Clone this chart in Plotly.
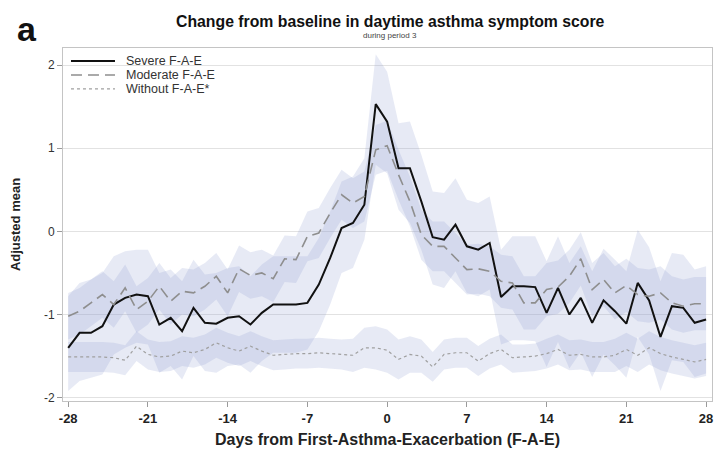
import plotly.graph_objects as go

days = list(range(-28, 29))

severe = [-1.40, -1.22, -1.22, -1.14, -0.88, -0.80, -0.76, -0.78, -1.12, -1.04,
          -1.20, -0.92, -1.10, -1.11, -1.04, -1.02, -1.12, -0.98, -0.88, -0.88,
          -0.88, -0.86, -0.64, -0.32, 0.04, 0.10, 0.32, 1.53, 1.32, 0.76,
          0.76, 0.36, -0.07, -0.10, 0.08, -0.18, -0.22, -0.14, -0.79, -0.66,
          -0.66, -0.67, -0.98, -0.68, -1.00, -0.80, -1.10, -0.83, -0.96, -1.11,
          -0.62, -0.83, -1.27, -0.90, -0.92, -1.10, -1.06]
severe_lo = [-1.92, -1.80, -1.76, -1.72, -1.48, -1.40, -1.34, -1.36, -1.70, -1.62,
             -1.78, -1.50, -1.68, -1.70, -1.62, -1.60, -1.70, -1.56, -1.46, -1.46,
             -1.46, -1.42, -1.20, -0.88, -0.50, -0.44, -0.10, 0.80, 0.70, 0.26,
             0.10, -0.22, -0.64, -0.68, -0.48, -0.74, -0.78, -0.70, -1.36, -1.31,
             -1.31, -1.32, -1.63, -1.33, -1.65, -1.45, -1.75, -1.48, -1.61, -1.76,
             -1.27, -1.48, -1.92, -1.55, -1.57, -1.75, -1.71]
severe_hi = [-0.78, -0.62, -0.58, -0.50, -0.30, -0.24, -0.22, -0.22, -0.50, -0.46,
             -0.60, -0.34, -0.52, -0.50, -0.44, -0.42, -0.54, -0.40, -0.30, -0.30,
             -0.30, -0.30, -0.08, 0.24, 0.60, 0.66, 0.88, 2.13, 1.92, 1.30,
             1.32, 0.92, 0.48, 0.46, 0.64, 0.38, 0.34, 0.42, -0.22, -0.06,
             -0.06, -0.06, -0.36, -0.06, -0.38, -0.18, -0.48, -0.21, -0.34, -0.48,
             0.02, -0.19, -0.60, -0.26, -0.28, -0.46, -0.42]

moderate = [-1.02, -0.96, -0.86, -0.76, -0.88, -0.68, -0.94, -0.84, -0.66, -0.84,
            -0.72, -0.74, -0.66, -0.54, -0.74, -0.45, -0.53, -0.50, -0.57, -0.33,
            -0.34, -0.06, -0.02, 0.22, 0.44, 0.34, 0.42, 0.98, 1.03, 0.68,
            0.36, -0.04, -0.18, -0.18, -0.32, -0.46, -0.45, -0.48, -0.60, -0.62,
            -0.86, -0.86, -0.70, -0.67, -0.54, -0.33, -0.70, -0.58, -0.74, -0.65,
            -0.76, -0.78, -0.74, -0.86, -0.90, -0.87, -0.87]
moderate_lo = [-1.30, -1.24, -1.14, -1.04, -1.16, -0.96, -1.22, -1.12, -0.94, -1.12,
               -1.00, -1.02, -0.94, -0.82, -1.02, -0.73, -0.81, -0.78, -0.85, -0.61,
               -0.62, -0.36, -0.32, -0.08, 0.14, 0.04, 0.12, 0.68, 0.73, 0.38,
               0.06, -0.34, -0.48, -0.48, -0.62, -0.76, -0.75, -0.78, -0.92, -0.94,
               -1.18, -1.18, -1.02, -0.99, -0.86, -0.65, -1.02, -0.90, -1.06, -0.97,
               -1.08, -1.10, -1.06, -1.18, -1.22, -1.19, -1.19]
moderate_hi = [-0.74, -0.68, -0.58, -0.48, -0.60, -0.40, -0.66, -0.56, -0.38, -0.56,
               -0.44, -0.46, -0.38, -0.26, -0.46, -0.17, -0.25, -0.22, -0.29, -0.05,
               -0.06, 0.24, 0.28, 0.52, 0.74, 0.64, 0.72, 1.28, 1.33, 0.98,
               0.66, 0.26, 0.12, 0.12, -0.02, -0.16, -0.15, -0.18, -0.28, -0.30,
               -0.54, -0.54, -0.38, -0.35, -0.22, -0.01, -0.38, -0.26, -0.42, -0.33,
               -0.44, -0.46, -0.42, -0.54, -0.58, -0.55, -0.55]

without = [-1.51, -1.51, -1.51, -1.51, -1.52, -1.55, -1.38, -1.48, -1.51, -1.50,
           -1.44, -1.46, -1.42, -1.34, -1.40, -1.44, -1.38, -1.44, -1.49, -1.48,
           -1.47, -1.47, -1.46, -1.47, -1.48, -1.49, -1.40, -1.40, -1.43, -1.54,
           -1.48, -1.50, -1.63, -1.48, -1.46, -1.46, -1.56, -1.47, -1.42, -1.52,
           -1.51, -1.50, -1.47, -1.42, -1.49, -1.48, -1.51, -1.51, -1.49, -1.42,
           -1.49, -1.40, -1.47, -1.51, -1.54, -1.57, -1.54]
without_lo = [-1.69, -1.69, -1.69, -1.69, -1.70, -1.73, -1.56, -1.66, -1.69, -1.68,
              -1.62, -1.64, -1.60, -1.52, -1.58, -1.62, -1.56, -1.62, -1.67, -1.66,
              -1.65, -1.65, -1.64, -1.65, -1.66, -1.69, -1.64, -1.66, -1.70, -1.78,
              -1.70, -1.70, -1.81, -1.66, -1.64, -1.64, -1.74, -1.65, -1.60, -1.70,
              -1.69, -1.68, -1.65, -1.60, -1.67, -1.66, -1.69, -1.69, -1.69, -1.62,
              -1.69, -1.60, -1.67, -1.71, -1.74, -1.77, -1.74]
without_hi = [-1.33, -1.33, -1.33, -1.33, -1.34, -1.37, -1.20, -1.30, -1.33, -1.32,
              -1.26, -1.28, -1.24, -1.16, -1.22, -1.26, -1.20, -1.26, -1.31, -1.30,
              -1.29, -1.29, -1.28, -1.29, -1.30, -1.29, -1.16, -1.14, -1.18, -1.30,
              -1.26, -1.30, -1.45, -1.30, -1.28, -1.28, -1.38, -1.29, -1.24, -1.36,
              -1.36, -1.35, -1.29, -1.24, -1.31, -1.30, -1.33, -1.33, -1.29, -1.22,
              -1.29, -1.20, -1.27, -1.31, -1.34, -1.37, -1.34]

x_ticks = [-28, -21, -14, -7, 0, 7, 14, 21, 28]
y_ticks = [-2, -1, 0, 1, 2]

series_names = ["Severe F-A-E", "Moderate F-A-E", "Without F-A-E*"]

FONT = "Liberation Sans, Arial, Helvetica, sans-serif"
BAND = "rgba(140,155,210,0.21)"
line_styles = [
    dict(color="#111111", width=2),
    dict(color="#8e8e8e", width=1.6, dash="11px,6px"),
    dict(color="#a0a0a0", width=1.2, dash="3px,3px"),
]

fig = go.Figure()

for lo, hi in [(severe_lo, severe_hi), (moderate_lo, moderate_hi), (without_lo, without_hi)]:
    fig.add_trace(go.Scatter(
        x=days + days[::-1], y=hi + lo[::-1], fill="toself", fillcolor=BAND,
        line=dict(width=0, color="rgba(0,0,0,0)"), mode="lines",
        hoverinfo="skip", showlegend=False))

for vals, name, style in zip([severe, moderate, without], series_names, line_styles):
    fig.add_trace(go.Scatter(x=days, y=vals, mode="lines", name=name, line=style,
                             showlegend=False))

# legend drawn as decoration (line samples + labels) in paper coordinates
shapes = []
annotations = []
leg_y = [0.963, 0.9235, 0.884]
for name, style, yy in zip(series_names, line_styles, leg_y):
    shapes.append(dict(type="line", xref="paper", yref="paper", x0=0.0123, x1=0.0801,
                       y0=yy, y1=yy, line=style))
    annotations.append(dict(text=name, xref="paper", yref="paper", x=0.094, y=yy,
                            xanchor="left", yanchor="middle", showarrow=False,
                            font=dict(size=12.5, color="#333333")))

annotations += [
    dict(text="Change from baseline in daytime asthma symptom score", xref="paper", yref="paper",
         x=0.5046, y=1.0745, xanchor="center", yanchor="middle", showarrow=False,
         font=dict(size=15.8, weight="bold", color="#111111")),
    dict(text="during period 3", xref="paper", yref="paper",
         x=0.5046, y=1.036, xanchor="center", yanchor="middle", showarrow=False,
         font=dict(size=8, color="#444444")),
    dict(text="a", xref="paper", yref="paper",
         x=-0.0555, y=1.054, xanchor="center", yanchor="middle", showarrow=False,
         font=dict(size=34, weight="bold", color="#111111")),
]

fig.update_layout(
    width=706, height=444,
    margin=dict(l=55, r=2, t=40, b=51),
    paper_bgcolor="white", plot_bgcolor="white",
    font=dict(family=FONT, color="#222222"),
    showlegend=False,
    xaxis=dict(range=[-28.456, 28.52], tickvals=x_ticks, ticktext=[str(v) for v in x_ticks],
               showgrid=False, zeroline=False, showline=True, mirror=True, automargin=False,
               linecolor="#c4c4c4", linewidth=1, ticks="outside", ticklen=5,
               tickcolor="#9a9a9a", ticklabeloverflow="allow",
               tickfont=dict(size=13, weight="bold", color="#222222"),
               title=dict(text="Days from First-Asthma-Exacerbation (F-A-E)",
                          font=dict(size=16, weight="bold", color="#222222"), standoff=9)),
    yaxis=dict(range=[-2.04, 2.205], tickvals=y_ticks, ticktext=[str(v) for v in y_ticks],
               showgrid=True, gridcolor="#e2e2e2", gridwidth=1, zeroline=False, automargin=False,
               showline=True, mirror=True, linecolor="#c4c4c4", linewidth=1,
               ticks="outside", ticklen=5, tickcolor="#9a9a9a",
               tickfont=dict(size=12, color="#333333"),
               title=dict(text="Adjusted mean", font=dict(size=13, weight="bold", color="#222222"),
                          standoff=20)),
    shapes=shapes,
    annotations=annotations,
)

fig.write_html("out.html")
